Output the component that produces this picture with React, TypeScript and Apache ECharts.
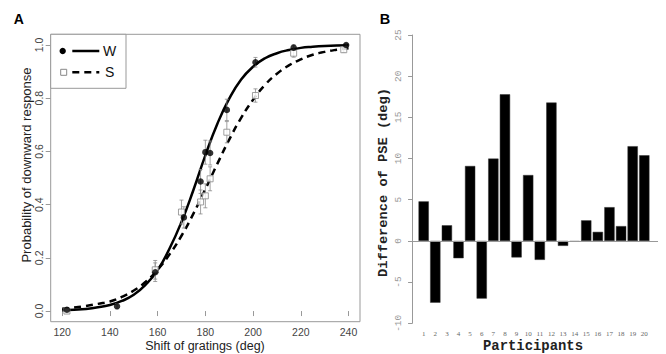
import React, { useEffect, useRef } from "react";
import * as echarts from "echarts";

// ---- Panel A data ----
const wX = [122, 143, 159, 171, 178, 180, 182, 189, 201, 217, 239];
const wY = [0.005, 0.018, 0.146, 0.352, 0.487, 0.597, 0.594, 0.756, 0.935, 0.99, 1.0];
const wErr = [0.006, 0.01, 0.035, 0.04, 0.045, 0.045, 0.045, 0.04, 0.018, 0.01, 0.005];
const sX = [122, 159, 170, 178, 180, 182, 189, 201, 217, 238];
const sY = [0.0, 0.155, 0.372, 0.41, 0.433, 0.497, 0.672, 0.81, 0.969, 0.982];
const sErr = [0.006, 0.035, 0.045, 0.045, 0.045, 0.045, 0.04, 0.025, 0.015, 0.01];
const curveX = [120, 125, 130, 135, 140, 145, 150, 155, 160, 165, 170, 175, 180, 185, 190, 195, 200, 205, 210, 215, 220, 225, 230, 235, 240];
const wCurve = [0.003, 0.005, 0.008, 0.014, 0.023, 0.038, 0.061, 0.099, 0.154, 0.235, 0.335, 0.455, 0.585, 0.703, 0.798, 0.87, 0.918, 0.95, 0.969, 0.981, 0.989, 0.993, 0.996, 0.998, 0.999];
const sCurve = [0.009, 0.013, 0.019, 0.027, 0.036, 0.053, 0.077, 0.11, 0.156, 0.213, 0.283, 0.366, 0.458, 0.553, 0.644, 0.726, 0.794, 0.85, 0.892, 0.923, 0.946, 0.963, 0.974, 0.982, 0.988];
const xTicksA = [120, 140, 160, 180, 200, 220, 240];
const yTicksA = [0, 0.2, 0.4, 0.6, 0.8, 1.0];

// ---- Panel B data ----
const participants = [1, 2, 3, 4, 5, 6, 7, 8, 9, 10, 11, 12, 13, 14, 15, 16, 17, 18, 19, 20];
const pseDiff = [4.8, -7.5, 1.9, -2.1, 9.1, -7.0, 10.0, 17.8, -2.0, 8.0, -2.3, 16.8, -0.6, -0.1, 2.5, 1.1, 4.1, 1.8, 11.5, 10.4];

const errRender = (params: any, api: any) => {
  const x = api.value(0);
  const y = api.value(1);
  const e = api.value(2);
  const top = api.coord([x, y + e]);
  const bot = api.coord([x, y - e]);
  const cap = 2;
  const st = { stroke: "#8a8a8a", lineWidth: 0.8 };
  return {
    type: "group",
    children: [
      { type: "line", shape: { x1: top[0], y1: top[1], x2: bot[0], y2: bot[1] }, style: st },
      { type: "line", shape: { x1: top[0] - cap, y1: top[1], x2: top[0] + cap, y2: top[1] }, style: st },
      { type: "line", shape: { x1: bot[0] - cap, y1: bot[1], x2: bot[0] + cap, y2: bot[1] }, style: st },
    ],
  };
};

export default function App() {
  const ref = useRef<HTMLDivElement>(null);
  useEffect(() => {
    if (!ref.current) return;
    const chart = echarts.init(ref.current, null, { renderer: "svg" });
    const sans = "Liberation Sans";
    const mono = "Liberation Mono";
    chart.setOption({
      animation: false,
      backgroundColor: "#ffffff",
      grid: [
        { left: 50.7, top: 34.3, width: 309.3, height: 287.4, show: true, borderColor: "#999", borderWidth: 1, backgroundColor: "transparent" },
        { left: 408, top: 35, width: 250, height: 288.3, show: false },
      ],
      xAxis: [
        {
          gridIndex: 0, type: "value", min: 115.2, max: 244.8,
          axisLine: { show: false },
          axisTick: { show: true, inside: false, length: 5, lineStyle: { color: "#999" }, customValues: xTicksA },
          axisLabel: { color: "#444", fontFamily: sans, fontSize: 10.5, margin: 5, customValues: xTicksA },
          splitLine: { show: false },
        },
        {
          gridIndex: 1, type: "value", min: -0.35, max: 21.18,
          axisLine: { show: false },
          axisTick: { show: false },
          axisLabel: { color: "#666", fontFamily: "Liberation Serif", fontSize: 7, margin: 7, customValues: participants },
          splitLine: { show: false },
        },
      ],
      yAxis: [
        {
          gridIndex: 0, type: "value", min: -0.04, max: 1.04,
          axisLine: { show: false },
          axisTick: { show: true, inside: false, length: 5, lineStyle: { color: "#999" }, customValues: yTicksA },
          axisLabel: { color: "#444", fontFamily: sans, fontSize: 10.5, margin: 6, rotate: 90, customValues: yTicksA, formatter: (v: number) => v.toFixed(1) },
          splitLine: { show: false },
        },
        {
          gridIndex: 1, type: "value", min: -10, max: 25, interval: 5,
          axisLine: { show: true, lineStyle: { color: "#999" } },
          axisTick: { show: true, inside: false, length: 4, lineStyle: { color: "#999" } },
          axisLabel: { color: "#999", fontFamily: mono, fontSize: 9.5, margin: 5, rotate: 90 },
          splitLine: { show: false },
        },
      ],
      series: [
        {
          type: "line", xAxisIndex: 0, yAxisIndex: 0, smooth: true, showSymbol: false, z: 3,
          data: curveX.map((x, i) => [x, sCurve[i]]),
          lineStyle: { color: "#000", width: 2.5, type: [7, 5] },
        },
        {
          type: "line", xAxisIndex: 0, yAxisIndex: 0, smooth: true, showSymbol: false, z: 3,
          data: curveX.map((x, i) => [x, wCurve[i]]),
          lineStyle: { color: "#000", width: 2.5 },
        },
        {
          type: "custom", xAxisIndex: 0, yAxisIndex: 0, z: 4, renderItem: errRender,
          data: wX.map((x, i) => [x, wY[i], wErr[i]]),
        },
        {
          type: "custom", xAxisIndex: 0, yAxisIndex: 0, z: 4, renderItem: errRender,
          data: sX.map((x, i) => [x, sY[i], sErr[i]]),
        },
        {
          type: "scatter", xAxisIndex: 0, yAxisIndex: 0, z: 5, symbol: "rect", symbolSize: 6,
          itemStyle: { color: "#fff", borderColor: "#888", borderWidth: 1 },
          data: sX.map((x, i) => [x, sY[i]]),
        },
        {
          type: "scatter", xAxisIndex: 0, yAxisIndex: 0, z: 6, symbol: "circle", symbolSize: 6.5,
          itemStyle: { color: "#000" },
          data: wX.map((x, i) => [x, wY[i]]),
        },
        {
          type: "bar", xAxisIndex: 1, yAxisIndex: 1, barWidth: 10.3,
          itemStyle: { color: "#000", borderColor: "#333", borderWidth: 0.5 },
          data: participants.map((p, i) => [p, pseDiff[i]]),
          markLine: {
            silent: true, symbol: "none", label: { show: false },
            lineStyle: { color: "#999", type: "solid", width: 1 },
            data: [{ yAxis: 0 }],
          },
        },
      ],
      graphic: [
        { type: "text", x: 18.8, y: 19.3, style: { text: "A", font: `bold 14px ${sans}`, fill: "#000", textAlign: "center", textVerticalAlign: "middle" } },
        { type: "text", x: 385, y: 18.7, style: { text: "B", font: `bold 14.5px ${sans}`, fill: "#000", textAlign: "center", textVerticalAlign: "middle" } },
        { type: "text", x: 26, y: 165, rotation: Math.PI / 2, style: { text: "Probability of downward response", font: `13px ${sans}`, fill: "#222", textAlign: "center", textVerticalAlign: "middle" } },
        { type: "text", x: 205, y: 345.5, style: { text: "Shift of gratings (deg)", font: `12.5px ${sans}`, fill: "#222", textAlign: "center", textVerticalAlign: "middle" } },
        { type: "text", x: 383.3, y: 182.5, rotation: Math.PI / 2, style: { text: "Difference of PSE (deg)", font: `bold 13.7px ${mono}`, fill: "#222", textAlign: "center", textVerticalAlign: "middle" } },
        { type: "text", x: 533, y: 345.5, style: { text: "Participants", font: `bold 13.9px ${mono}`, fill: "#222", textAlign: "center", textVerticalAlign: "middle" } },
        // legend
        { type: "rect", shape: { x: 50.7, y: 34.3, width: 75.3, height: 54 }, style: { fill: "#fff", stroke: "#999", lineWidth: 1 }, z: 10 },
        { type: "circle", shape: { cx: 62.7, cy: 51, r: 3.2 }, style: { fill: "#000" }, z: 11 },
        { type: "line", shape: { x1: 72.3, y1: 51, x2: 99.3, y2: 51 }, style: { stroke: "#000", lineWidth: 2.5 }, z: 11 },
        { type: "text", x: 103, y: 51, style: { text: "W", font: `14px ${sans}`, fill: "#111", textVerticalAlign: "middle" }, z: 11 },
        { type: "rect", shape: { x: 60.7, y: 69.3, width: 6, height: 6 }, style: { fill: "#fff", stroke: "#888", lineWidth: 1 }, z: 11 },
        { type: "line", shape: { x1: 72.3, y1: 72.3, x2: 99.3, y2: 72.3 }, style: { stroke: "#000", lineWidth: 2.5, lineDash: [7, 5] }, z: 11 },
        { type: "text", x: 105, y: 72.3, style: { text: "S", font: `14px ${sans}`, fill: "#111", textVerticalAlign: "middle" }, z: 11 },
      ],
    });
    return () => chart.dispose();
  }, []);
  return <div ref={ref} style={{ position: "fixed", left: 0, top: 0, width: 666, height: 354 }} />;
}
